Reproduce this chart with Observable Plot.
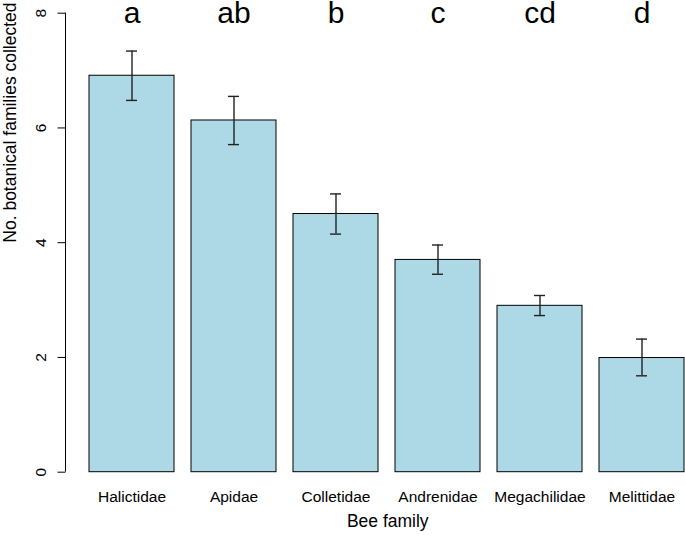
<!DOCTYPE html>
<html><head><meta charset="utf-8">
<script src="https://cdn.jsdelivr.net/npm/d3@7"></script>
<script src="https://cdn.jsdelivr.net/npm/@observablehq/plot@0.6"></script>
<style>body{margin:0;background:#fff;overflow:hidden}</style>
</head><body><div id="chart"></div>
<script>
const families = ["Halictidae","Apidae","Colletidae","Andrenidae","Megachilidae","Melittidae"];
const means = [6.91, 6.13, 4.50, 3.70, 2.90, 1.99];
const upper = [7.34, 6.55, 4.85, 3.96, 3.08, 2.32];
const lower = [6.48, 5.71, 4.15, 3.45, 2.73, 1.68];
const letters = ["a","ab","b","c","cd","d"];
const letterY = 8;
const yTicks = [0, 2, 4, 6, 8];
const yTitle = "No. botanical families collected";
const xTitle = "Bee family";

const data = families.map((f, i) => ({family: f, mean: means[i], lo: lower[i], hi: upper[i], letter: letters[i]}));

const errStyle = {stroke: "#222", strokeWidth: 1.4};
const plot = Plot.plot({
  width: 685, height: 538,
  marginLeft: 65.5, marginRight: 0, marginTop: 12.7, marginBottom: 66.3,
  style: {fontFamily: "'Liberation Sans', Arial, sans-serif", fontSize: "15.5px", background: "white", color: "black", overflow: "visible"},
  x: {domain: families, range: [89, 684], paddingInner: 17/102, paddingOuter: 0, align: 0, label: null, axis: null},
  y: {domain: [0, 8], label: null, axis: null},
  marks: [
    Plot.barY(data, {x: "family", y: "mean", fill: "#ADD8E6", stroke: "black", strokeWidth: 1}),
    Plot.ruleX(data, {x: "family", y1: "lo", y2: "hi", ...errStyle}),
    Plot.tickY(data, {x: "family", y: "lo", insetLeft: 37, insetRight: 37, ...errStyle}),
    Plot.tickY(data, {x: "family", y: "hi", insetLeft: 37, insetRight: 37, ...errStyle}),
    Plot.text(data, {x: "family", y: () => letterY, text: "letter", fontSize: 30}),
    Plot.axisX({tickSize: 0, tickPadding: 19, fontSize: 15.5, label: null}),
    Plot.axisY({ticks: yTicks, tickSize: 8, tickRotate: -90, tickPadding: 12, fontSize: 15.5, label: null}),
    Plot.text([yTitle], {frameAnchor: "left", rotate: -90, dx: -56, fontSize: 17.5}),
    Plot.text([xTitle], {frameAnchor: "bottom", dx: 12, dy: 54.7, fontSize: 17.5})
  ]
});
const ys = plot.scale("y");
d3.select(plot).append("line")
  .attr("x1", 65.5).attr("x2", 65.5)
  .attr("y1", ys.range[0]).attr("y2", ys.range[1])
  .attr("stroke", "black").attr("stroke-width", 1);
document.getElementById("chart").appendChild(plot);
</script>
</body></html>
